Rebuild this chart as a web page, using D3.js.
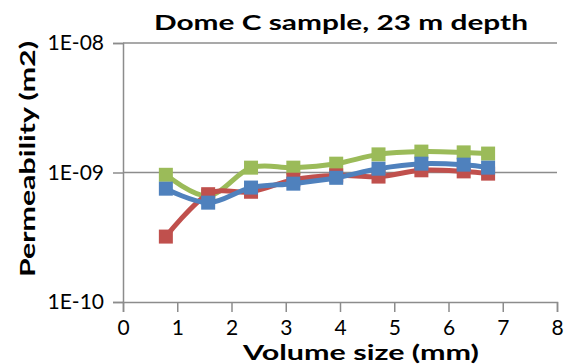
<!DOCTYPE html>
<html>
<head>
<meta charset="utf-8">
<script src="https://cdn.jsdelivr.net/npm/d3@7"></script>
<style>
  body { margin: 0; background: #fff; }
  text { font-family: Lato, "Open Sans", sans-serif; }
</style>
</head>
<body>
<svg id="chart" width="571" height="364"></svg>
<script>
// volume sizes (mm) and permeability (m2)
const volumeSize = [0.79, 1.57, 2.36, 3.14, 3.93, 4.71, 5.5, 6.28, 6.73];
const redSeries   = [3.2e-10, 6.8e-10, 7.1e-10, 8.8e-10, 9.5e-10, 9.3e-10, 1.04e-9, 1.02e-9, 0.98e-9];
const greenSeries = [9.6e-10, 6.6e-10, 1.09e-9, 1.09e-9, 1.17e-9, 1.38e-9, 1.45e-9, 1.43e-9, 1.40e-9];
const blueSeries  = [7.5e-10, 5.85e-10, 7.65e-10, 8.2e-10, 9.1e-10, 1.07e-9, 1.17e-9, 1.15e-9, 1.09e-9];
const xTicks = [0, 1, 2, 3, 4, 5, 6, 7, 8];
const yTicks = [1e-10, 1e-9, 1e-8];
const yTickLabels = ['1E-10', '1E-09', '1E-08'];

const svg = d3.select('#chart');
const margin = {left: 123, right: 14, top: 43, bottom: 62};
const width = 571, height = 364;

const x = d3.scaleLinear().domain([0, 8]).range([margin.left, width - margin.right]);
const y = d3.scaleLog().domain([1e-10, 1e-8]).range([height - margin.bottom, margin.top]);

const grey = '#8c8c8c';

// horizontal gridlines (1E-10 is the x axis itself)
svg.append('g')
  .selectAll('line')
  .data(yTicks.slice(1))
  .join('line')
    .attr('x1', x(0)).attr('x2', x(8))
    .attr('y1', d => y(d)).attr('y2', d => y(d))
    .attr('stroke', grey).attr('stroke-width', 1.5);

// y axis
const yAxis = svg.append('g')
  .attr('transform', `translate(${x(0)},0)`)
  .call(d3.axisLeft(y).tickValues(yTicks).tickFormat((d, i) => yTickLabels[i]).tickSizeOuter(0).tickSize(10).tickPadding(9));
yAxis.select('.domain').attr('stroke', grey).attr('stroke-width', 1.5);
yAxis.selectAll('line').attr('stroke', grey).attr('stroke-width', 1.5);
yAxis.selectAll('text').attr('font-size', 21).attr('fill', '#000').attr('font-family', 'Lato, sans-serif');

// x axis
const xAxis = svg.append('g')
  .attr('transform', `translate(0,${y(1e-10)})`)
  .call(d3.axisBottom(x).tickValues(xTicks).tickFormat(d3.format('d')).tickSizeOuter(0).tickSize(10).tickPadding(8));
xAxis.select('.domain').attr('stroke', grey).attr('stroke-width', 1.5);
xAxis.selectAll('line').attr('stroke', grey).attr('stroke-width', 1.5);
xAxis.selectAll('text').attr('font-size', 21).attr('fill', '#000').attr('font-family', 'Lato, sans-serif');

// series: drawn green, red, then blue on top
const series = [
  {values: greenSeries, color: '#9BBB59'},
  {values: redSeries, color: '#C0504D'},
  {values: blueSeries, color: '#4F81BD'}
];

const line = d3.line()
  .x(d => x(d[0]))
  .y(d => y(d[1]))
  .curve(d3.curveCardinal.tension(0));

const marker = 14;
series.forEach(s => {
  const pts = volumeSize.map((v, i) => [v, s.values[i]]);
  const g = svg.append('g');
  g.append('path')
    .attr('d', line(pts))
    .attr('fill', 'none')
    .attr('stroke', s.color)
    .attr('stroke-width', 5)
    .attr('stroke-linejoin', 'round');
  g.selectAll('rect')
    .data(pts)
    .join('rect')
      .attr('x', d => x(d[0]) - marker / 2)
      .attr('y', d => y(d[1]) - marker / 2)
      .attr('width', marker)
      .attr('height', marker)
      .attr('fill', s.color);
});

// titles, stretched to the wide face of the original
const boldFont = '"Open Sans", Lato, sans-serif';
svg.append('text')
  .attr('x', 341).attr('y', 30)
  .attr('text-anchor', 'middle')
  .attr('font-family', boldFont)
  .attr('font-size', 21).attr('font-weight', 'bold')
  .attr('textLength', 374).attr('lengthAdjust', 'spacingAndGlyphs')
  .text('Dome C sample, 23 m depth');

svg.append('text')
  .attr('x', 361).attr('y', 360)
  .attr('text-anchor', 'middle')
  .attr('font-family', boldFont)
  .attr('font-size', 21).attr('font-weight', 'bold')
  .attr('textLength', 236).attr('lengthAdjust', 'spacingAndGlyphs')
  .text('Volume size (mm)');

svg.append('text')
  .attr('transform', 'translate(35,159) rotate(-90)')
  .attr('text-anchor', 'middle')
  .attr('font-family', boldFont)
  .attr('font-size', 21).attr('font-weight', 'bold')
  .attr('textLength', 236).attr('lengthAdjust', 'spacingAndGlyphs')
  .text('Permeability (m2)');
</script>
</body>
</html>
